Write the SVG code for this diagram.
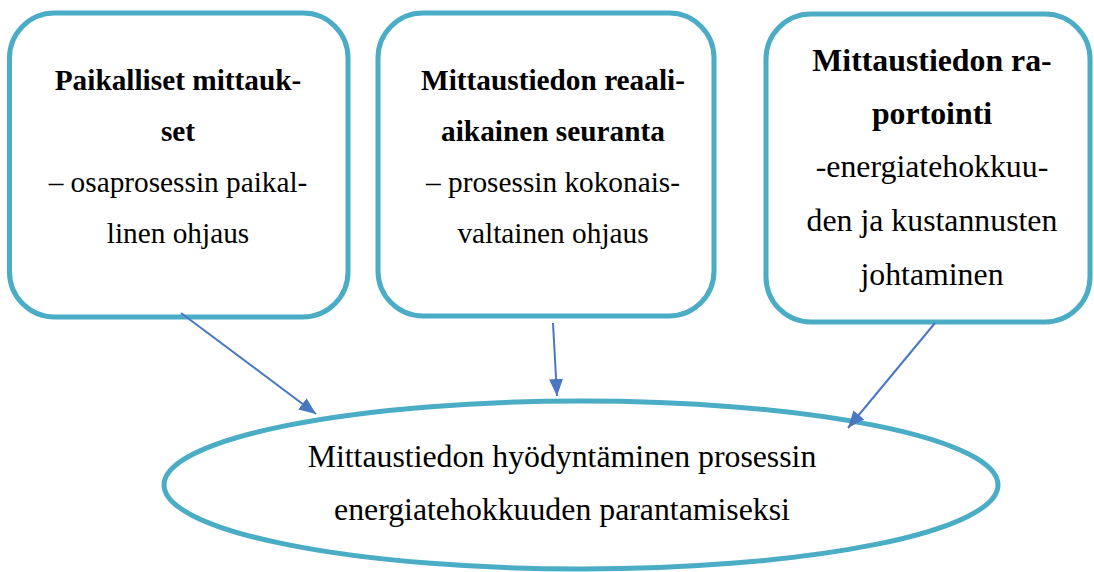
<svg xmlns="http://www.w3.org/2000/svg" width="1094" height="572" viewBox="0 0 1094 572">
<style>
.box{fill:#fff;stroke:#4BACC6;stroke-width:5}
.t{font-family:"Liberation Serif","Times New Roman",serif;fill:#000;text-anchor:middle}
.b{font-weight:bold}
.s29{font-size:29.3px}
.s32{font-size:31.8px}
.conn{stroke:#4A78C0;stroke-width:2;fill:none}
</style>
<defs>
<marker id="ah" markerUnits="userSpaceOnUse" markerWidth="18" markerHeight="14" refX="17" refY="7" orient="auto">
<path d="M0,0 L17,7 L0,14 z" fill="#4A78C0"/>
</marker>
</defs>
<rect width="1094" height="572" fill="#fff"/>
<g id="node-paikalliset">
<rect class="box" x="9.5" y="13" width="338.5" height="304" rx="45" ry="45"/>
<text class="t b s29" x="178" y="90">Paikalliset mittauk-</text>
<text class="t b s29" x="178" y="141">set</text>
<text class="t s29" x="178" y="192">– osaprosessin paikal-</text>
<text class="t s29" x="178" y="243">linen ohjaus</text>
</g>
<g id="node-reaaliaikainen">
<rect class="box" x="378" y="13" width="336" height="303" rx="45" ry="45"/>
<text class="t b s29" x="553" y="90">Mittaustiedon reaali-</text>
<text class="t b s29" x="553" y="141">aikainen seuranta</text>
<text class="t s29" x="553" y="192">– prosessin kokonais-</text>
<text class="t s29" x="553" y="243">valtainen ohjaus</text>
</g>
<g id="node-raportointi">
<rect class="box" x="766" y="14" width="324" height="308" rx="45" ry="45"/>
<text class="t b s32" x="932" y="71">Mittaustiedon ra-</text>
<text class="t b s32" x="932" y="124">portointi</text>
<text class="t s32" x="932" y="177">-energiatehokkuu-</text>
<text class="t s32" x="932" y="231">den ja kustannusten</text>
<text class="t s32" x="932" y="285">johtaminen</text>
</g>
<g id="node-hyodyntaminen">
<ellipse class="box" cx="581" cy="485" rx="417" ry="84"/>
<text class="t s32" x="562" y="467">Mittaustiedon hyödyntäminen prosessin</text>
<text class="t s32" x="562" y="520">energiatehokkuuden parantamiseksi</text>
</g>
<g id="connectors">
<line class="conn" x1="181" y1="313" x2="316" y2="414" marker-end="url(#ah)"/>
<line class="conn" x1="553" y1="323" x2="557" y2="396" marker-end="url(#ah)"/>
<line class="conn" x1="935" y1="323" x2="848" y2="428" marker-end="url(#ah)"/>
</g>
</svg>
